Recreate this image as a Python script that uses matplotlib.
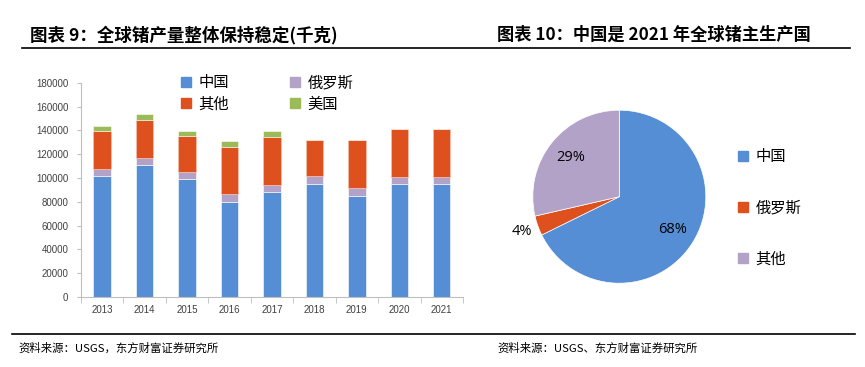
import numpy as np
import matplotlib
matplotlib.use('Agg')
import matplotlib.pyplot as plt
from matplotlib.patches import Patch

plt.rcParams['font.family'] = ['Noto Sans CJK SC', 'DejaVu Sans']

# bar chart data (kg)
years = ['2013', '2014', '2015', '2016', '2017', '2018', '2019', '2020', '2021']
china = [102000, 111000, 99400, 80100, 88500, 95200, 85100, 95200, 95200]
russia = [5500, 5400, 5600, 6200, 5600, 6200, 6500, 5600, 5600]
other = [31900, 32500, 30200, 40000, 40600, 30200, 40000, 40000, 40000]
usa = [4500, 4700, 4500, 5000, 4700, 0, 0, 0, 0]

# pie data (% of 2021 production)
pie_names = ['中国', '俄罗斯', '其他']
pie_share = [67.7, 3.7, 28.6]

c_china = '#558ED5'
c_russia = '#B3A2C7'
c_other = '#DE501D'
c_usa = '#9BBB59'

W, H = 865, 367
fig = plt.figure(figsize=(W / 100, H / 100), dpi=100)


def fx(px):
    return px / W


def fy(py):
    return 1 - py / H


# titles and rules
fig.text(fx(30), fy(35), '图表 9：全球锗产量整体保持稳定(千克)', fontsize=12.6,
         fontweight='bold', va='center', ha='left')
fig.text(fx(497), fy(35), '图表 10：中国是 2021 年全球锗主生产国', fontsize=12.4,
         fontweight='bold', va='center', ha='left')
fig.add_artist(plt.Line2D([fx(22), fx(850)], [fy(48), fy(48)], color='black', lw=1.2))
fig.add_artist(plt.Line2D([fx(12), fx(855)], [fy(334), fy(334)], color='black', lw=1.2))
fig.text(fx(18), fy(348), '资料来源：USGS，东方财富证券研究所', fontsize=8.2, va='center', ha='left')
fig.text(fx(497), fy(348), '资料来源：USGS、东方财富证券研究所', fontsize=8.2, va='center', ha='left')

# stacked bars
ax = fig.add_axes([fx(80.7), fy(297), fx(463) - fx(80.7), fy(82.7) - fy(297)])
x = np.arange(len(years))
bw = 0.41
b1 = np.array(china)
b2 = b1 + np.array(russia)
b3 = b2 + np.array(other)
ax.bar(x, china, bw, color=c_china, edgecolor='white', linewidth=0.4)
ax.bar(x, russia, bw, bottom=b1, color=c_russia, edgecolor='white', linewidth=0.4)
ax.bar(x, other, bw, bottom=b2, color=c_other, edgecolor='#f5c6b5', linewidth=0.4)
ax.bar(x, usa, bw, bottom=b3, color=c_usa, edgecolor='white', linewidth=0.4)

ax.set_xlim(-0.5, len(years) - 0.5)
ax.set_ylim(0, 180000)
ax.set_yticks(np.arange(0, 180001, 20000))
ax.set_xticks(x)
ax.set_xticklabels(years)
ax.set_xticks(np.arange(-0.5, len(years)), minor=True)
for lab in ax.get_xticklabels() + ax.get_yticklabels():
    lab.set_family(['Liberation Sans', 'DejaVu Sans'])
    lab.set_fontsize(7)
    lab.set_color('#404040')
ax.tick_params(axis='x', which='major', length=0, pad=6)
ax.tick_params(axis='x', which='minor', length=4, color='#bfbfbf')
ax.tick_params(axis='y', length=3, color='#bfbfbf', pad=6)
for s in ['top', 'right']:
    ax.spines[s].set_visible(False)
for s in ['left', 'bottom']:
    ax.spines[s].set_color('#bfbfbf')
    ax.spines[s].set_linewidth(0.8)

handles = [Patch(color=c_china, label='中国'), Patch(color=c_other, label='其他'),
           Patch(color=c_russia, label='俄罗斯'), Patch(color=c_usa, label='美国')]
fig.legend(handles=handles, ncol=2, loc='upper left', bbox_to_anchor=(fx(181), fy(74)),
           frameon=False, fontsize=11, handlelength=0.65, handleheight=0.65,
           handletextpad=0.5, columnspacing=4.0, labelspacing=0.3, borderpad=0,
           borderaxespad=0)

# pie
cx, cy, r = 619.3, 196.7, 86.5
pax = fig.add_axes([fx(cx - r), fy(cy + r), (2 * r) / W, (2 * r) / H])
wedges, _ = pax.pie(pie_share, colors=[c_china, c_other, c_russia], startangle=90,
                    counterclock=False, radius=1,
                    wedgeprops=dict(edgecolor='white', linewidth=0.5))
pax.set_xlim(-1, 1)
pax.set_ylim(-1, 1)
pax.set_aspect('equal')
dists = [0.72, 1.2, 0.72]
for w, v, d in zip(wedges, pie_share, dists):
    ang = np.deg2rad((w.theta1 + w.theta2) / 2)
    pax.text(d * np.cos(ang), d * np.sin(ang), f'{v:.0f}%', ha='center', va='center',
             fontsize=10.5, family=['Open Sans', 'DejaVu Sans'], clip_on=False)

pie_handles = [Patch(color=c, label=n) for c, n in zip([c_china, c_other, c_russia], pie_names)]
fig.legend(handles=pie_handles, loc='upper left', bbox_to_anchor=(fx(738), fy(148)),
           frameon=False, fontsize=11, handlelength=0.65, handleheight=0.65,
           handletextpad=0.5, labelspacing=2.25, borderpad=0, borderaxespad=0)

fig.savefig('out.png', dpi=100)
